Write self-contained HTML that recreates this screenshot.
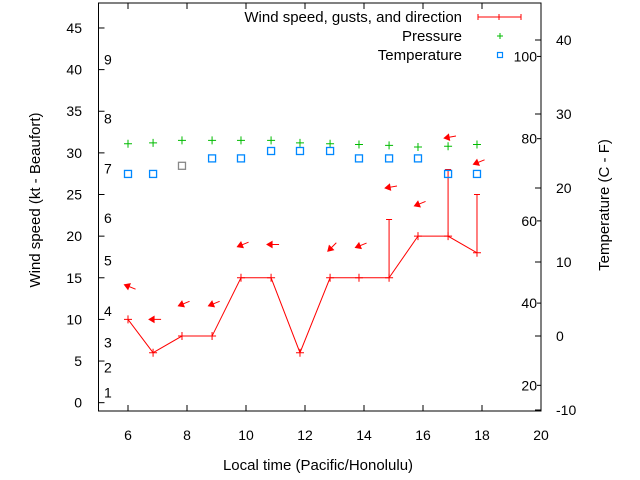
<!DOCTYPE html>
<html><head><meta charset="utf-8"><style>
body{margin:0;background:#fff}
svg{display:block;font-family:"Liberation Sans",sans-serif}
</style></head><body>
<svg id="c" width="640" height="480"></svg>
<script>
const times=[6,6.85,7.83,8.85,9.83,10.85,11.83,12.85,13.83,14.85,15.83,16.85,17.83];
const wind=[10,6,8,8,15,15,6,15,15,15,20,20,18];
const gusts=[null,null,null,null,null,null,null,null,null,22,null,28,25];
const pressure=[31.1,31.2,31.5,31.5,31.5,31.5,31.2,31.1,31.0,30.9,30.7,30.8,31.0];
const tempC=[21.9,21.9,23,24,24,25,25,25,24,24,24,21.9,21.9];
const arrowDir=[112,90,68,68,68,90,null,45,68,80,68,80,68];
const arrowY=[13.9,10,11.9,11.9,19,19,null,18.7,18.9,25.9,23.9,31.9,28.9];
const xTicks=[6,8,10,12,14,16,18,20];
const yTicks=[0,5,10,15,20,25,30,35,40,45];
const cTicks=[-10,0,10,20,30,40];
const fTicks=[20,40,60,80,100];
const beaufortNum=[1,2,3,4,5,6,7,8,9];
const beaufortKt=[1.2,4.2,7.2,11,17.1,22.2,28.1,34.1,41.2];

const L=98.5,R=541,T=3,B=411;
const X=v=>L+(v-5)*(R-L)/15;
const Y=v=>B-(v+1)*(B-T)/49;
const YC=c=>336-c*7.4;
const YF=f=>YC((f-32)*5/9);
const s=document.getElementById('c');const NS='http://www.w3.org/2000/svg';
function el(t,a,txt){const e=document.createElementNS(NS,t);for(const k in a)e.setAttribute(k,a[k]);if(txt!=null)e.textContent=txt;s.appendChild(e);return e;}

let e=el('rect',{x:L,y:T,width:R-L,height:B-T,fill:'none',stroke:'#000','stroke-width':1});


xTicks.forEach(v=>{
 el('line',{x1:X(v),x2:X(v),y1:B,y2:B-6,stroke:'#000'});
 el('line',{x1:X(v),x2:X(v),y1:T,y2:T+6,stroke:'#000'});
 const t=el('text',{x:X(v),y:440,'font-size':14,'text-anchor':'middle'},v);
 
 
});
yTicks.forEach(v=>{
 el('line',{x1:L,x2:L+6,y1:Y(v),y2:Y(v),stroke:'#000'});
 const t=el('text',{x:82,y:Y(v)+5,'font-size':14,'text-anchor':'end'},v);
 
 
});
cTicks.forEach(v=>{
 el('line',{x1:R,x2:R-6,y1:YC(v),y2:YC(v),stroke:'#000'});
 const t=el('text',{x:556,y:YC(v)+5,'font-size':14},v);
 
 
});
fTicks.forEach(v=>{
 el('line',{x1:R,x2:R-4,y1:YF(v),y2:YF(v),stroke:'#000'});
 const t=el('text',{x:537,y:YF(v)+5,'font-size':14,'text-anchor':'end'},v);
 
 
});
beaufortNum.forEach((b,i)=>{
 const t=el('text',{x:104,y:Y(beaufortKt[i])+5,'font-size':14},b);
 
 
});
let d='';times.forEach((t,i)=>{d+=(i?'L':'M')+X(t)+' '+Y(wind[i]);});
e=el('path',{d:d,fill:'none',stroke:'#f00','stroke-width':1});


times.forEach((t,i)=>{
 const x=X(t),y=Y(wind[i]);
 el('path',{d:`M${x-4} ${y}H${x+4}M${x} ${y-4}V${y+4}`,stroke:'#f00'});
 if(gusts[i]!=null){
  const g=el('path',{d:`M${x} ${y}V${Y(gusts[i])}M${x-3} ${Y(gusts[i])}H${x+3}`,stroke:'#f00'});
  
  
 }
 if(arrowDir[i]!=null){
  const a=(arrowDir[i]+180)*Math.PI/180;
  const dx=Math.sin(a),dy=-Math.cos(a);
  const x0=X(t)+2,y0=Y(arrowY[i]);
  const hx=x0+dx*6,hy=y0+dy*6,tx=x0-dx*6,ty=y0-dy*6;
  const px=-dy,py=dx;
  const ar=el('path',{d:`M${tx} ${ty}L${hx} ${hy}M${hx} ${hy}L${hx-dx*5+px*3} ${hy-dy*5+py*3}L${hx-dx*5-px*3} ${hy-dy*5-py*3}Z`,stroke:'#f00',fill:'#f00'});
  
  
 }
 const p=el('path',{d:`M${x-4} ${Y(pressure[i])}H${x+4}M${x} ${Y(pressure[i])-4}V${Y(pressure[i])+4}`,stroke:'#0b0'});
 
 
 const q=el('rect',{x:x-3.5,y:YC(tempC[i])-3.5,width:7,height:7,fill:'none',stroke:i==2?'#888':'#08f','stroke-width':1.3});
 
 
});
const lg=[['Wind speed, gusts, and direction',17],['Pressure',36],['Temperature',55]];
lg.forEach((l,i)=>{
 const t=el('text',{x:462,y:l[1]+5,'font-size':15,'text-anchor':'end'},l[0]);
 
 
});
el('path',{d:'M478 17H521M478 14V20M521 14V20M499 14V20',stroke:'#f00'});
el('path',{d:'M497 36H503M500 33V39',stroke:'#0b0'});
el('rect',{x:497.5,y:52.5,width:5,height:5,fill:'none',stroke:'#08f','stroke-width':1.2});
e=el('text',{x:318,y:470,'font-size':15,'text-anchor':'middle'},'Local time (Pacific/Honolulu)');


e=el('text',{x:0,y:0,'font-size':15,'text-anchor':'middle',transform:'translate(40,200) rotate(-90)'},'Wind speed (kt - Beaufort)');


e=el('text',{x:0,y:0,'font-size':15,'text-anchor':'middle',transform:'translate(609,205) rotate(-90)'},'Temperature (C - F)');


</script>
</body></html>
